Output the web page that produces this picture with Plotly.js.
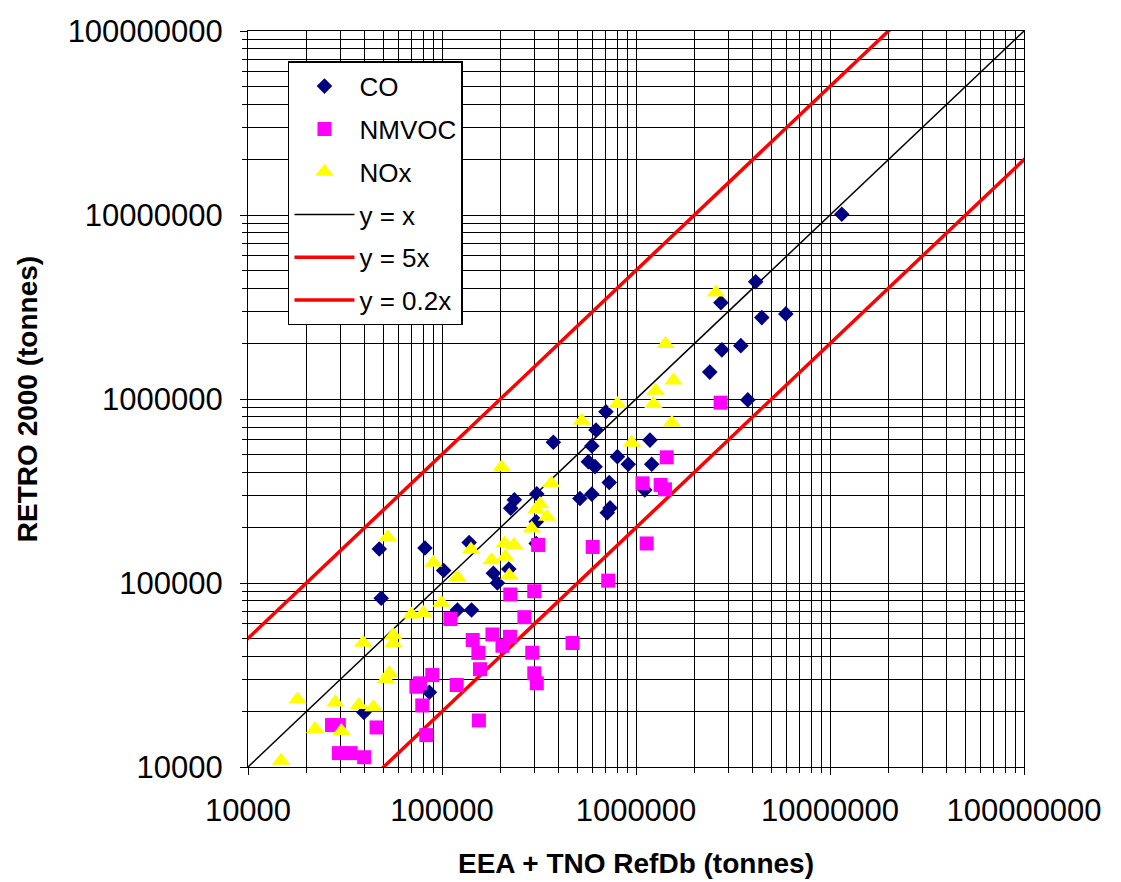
<!DOCTYPE html>
<html>
<head>
<meta charset="utf-8">
<script src="https://cdn.plot.ly/plotly-3.0.1.min.js"></script>
<style>html,body{margin:0;padding:0;background:#fff;}#chart{width:1121px;height:882px;}</style>
</head>
<body>
<div id="chart"></div>
<script>
// CO (navy diamonds)
const coX = [11500000, 4140000, 2740000, 4450000, 5920000, 2770000, 3470000, 2400000, 3770000, 700000, 622000, 375000, 592000, 1180000, 802000, 568000, 615000, 912000, 1205000, 728000, 1110000, 514000, 592000, 735000, 711000, 308000, 236000, 226000, 306000, 306000, 81700, 138000, 102000, 184000, 193000, 120000, 142000, 221000, 47500, 48600, 86100, 39600];
const coY = [10100000, 4340000, 3340000, 2770000, 2900000, 1850000, 1950000, 1400000, 989000, 853000, 679000, 582000, 556000, 598000, 486000, 456000, 429000, 442000, 442000, 352000, 320000, 288000, 304000, 256000, 241000, 305000, 283000, 255000, 215000, 164000, 155000, 166000, 117000, 113000, 100000, 71300, 71300, 119000, 153000, 82600, 25500, 19800];
// NMVOC (magenta squares)
const nmX = [2730000, 1440000, 1080000, 1340000, 1410000, 1135000, 598000, 313000, 719000, 225000, 299000, 266000, 110500, 182000, 224000, 205000, 144000, 154000, 292000, 471000, 157000, 299000, 308000, 89100, 77000, 73800, 119000, 79100, 27100, 29400, 46000, 155000, 83000, 29400, 33800, 39700];
const nmY = [955000, 482000, 348000, 341000, 323000, 164000, 157000, 161000, 103000, 86600, 90200, 65200, 63700, 52500, 51000, 45600, 49000, 41700, 41800, 47200, 34000, 32300, 28500, 31600, 28500, 27300, 27900, 21600, 16900, 16900, 16400, 17900, 14900, 11900, 11900, 11300];
// NOx (yellow triangles)
const noxX = [2580000, 1420000, 1560000, 1260000, 1230000, 802000, 1530000, 525000, 951000, 203000, 366000, 320000, 306000, 348000, 290000, 210000, 235000, 212000, 141000, 180000, 222000, 90200, 120000, 99200, 69600, 80100, 52500, 56100, 56100, 39200, 53500, 51300, 18000, 28200, 37300, 44300, 22200, 30300, 14800];
const noxY = [3790000, 1990000, 1260000, 1110000, 940000, 940000, 743000, 762000, 579000, 426000, 348000, 269000, 252000, 229000, 198000, 164000, 161000, 139000, 152000, 133000, 110000, 129000, 107000, 78200, 67500, 68700, 177000, 52100, 47000, 47400, 32300, 30100, 23300, 22400, 21700, 21100, 16100, 15700, 10800];
// Reference lines y = k x
const refNames = ['y = x', 'y = 5x', 'y = 0.2x'];
const refFactors = [1, 5, 0.2];
const refX = [1000, 1000000000];
// Axis ticks
const tickVals = [10000, 100000, 1000000, 10000000, 100000000];
const tickText = ['10000', '100000', '1000000', '10000000', '100000000'];

const FONT = 'Liberation Sans, Arial, sans-serif';
const refColors = ['#000000', '#ff0000', '#ff0000'];
const refWidths = [1.5, 3.5, 3.5];

const traces = [];
refNames.forEach((n, i) => {
  traces.push({
    type: 'scatter', mode: 'lines', name: n,
    x: refX, y: refX.map(v => v * refFactors[i]),
    line: {color: refColors[i], width: refWidths[i]},
    legendgroup: 'g' + (i + 3), legendrank: 4 + i, hoverinfo: 'skip'
  });
});
traces.push({type: 'scatter', mode: 'markers', name: 'CO', x: coX, y: coY,
  marker: {symbol: 'diamond', size: 12, color: '#000080', line: {width: 0}},
  legendgroup: 'g0', legendrank: 1});
traces.push({type: 'scatter', mode: 'markers', name: 'NMVOC', x: nmX, y: nmY,
  marker: {symbol: 'square', size: 14, color: '#ff00ff', line: {width: 0}},
  legendgroup: 'g1', legendrank: 2});
traces.push({type: 'scatter', mode: 'markers', name: 'NOx', x: noxX, y: noxY,
  marker: {symbol: 'triangle-up', size: 16, color: '#ffff00', line: {width: 0}},
  legendgroup: 'g2', legendrank: 3});

const axisCommon = {
  type: 'log', range: [4, 8],
  tickvals: tickVals, ticktext: tickText,
  showgrid: true, gridcolor: '#000', gridwidth: 1,
  showline: true, linecolor: '#000', linewidth: 1, mirror: true,
  ticks: 'outside', ticklen: 7, tickcolor: '#000',
  tickfont: {family: FONT, size: 31, color: '#000'},
  zeroline: false,
  minor: {dtick: 'D1', showgrid: true, gridcolor: '#000', gridwidth: 1, ticks: 'outside', ticklen: 5, tickcolor: '#000'}
};

const layout = {
  width: 1121, height: 882,
  margin: {l: 248, r: 97, t: 31, b: 115},
  paper_bgcolor: '#fff', plot_bgcolor: '#fff',
  showlegend: true,
  xaxis: Object.assign({}, axisCommon, {
    ticklabelstandoff: 9,
    title: {text: 'EEA + TNO RefDb (tonnes)', font: {family: FONT, size: 28, color: '#000', weight: 'bold'}, standoff: 26}
  }),
  yaxis: Object.assign({}, axisCommon, {
    ticklabelstandoff: 11,
    title: {text: 'RETRO 2000 (tonnes)', font: {family: FONT, size: 28, color: '#000', weight: 'bold'}, standoff: 21}
  }),
  legend: {
    x: 0.0515, y: 0.959, xanchor: 'left', yanchor: 'top',
    bgcolor: '#fff', bordercolor: '#000', borderwidth: 1.5,
    font: {family: FONT, size: 26, color: '#000'},
    itemwidth: 60, tracegroupgap: 6, traceorder: 'grouped'
  }
};

Plotly.newPlot('chart', traces, layout, {displayModeBar: false, staticPlot: true});
</script>
</body>
</html>
